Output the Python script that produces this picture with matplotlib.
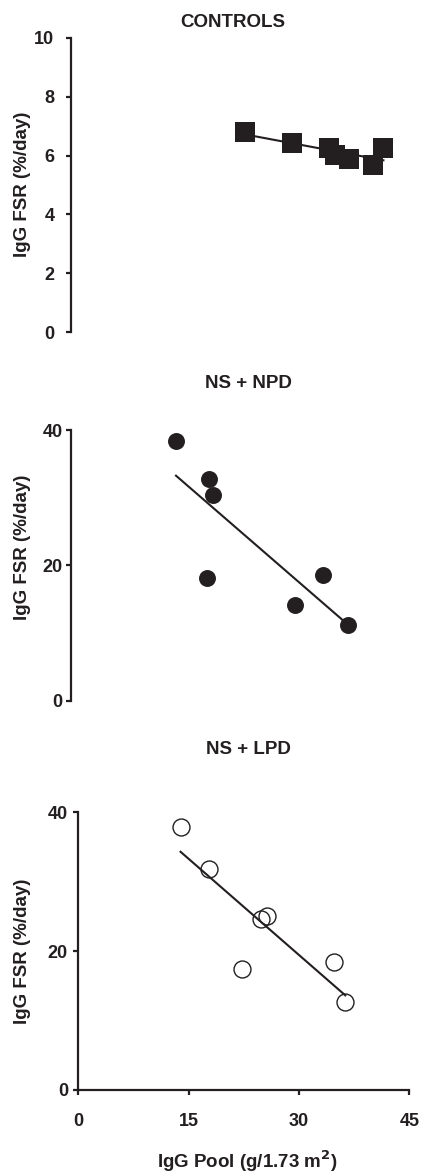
import numpy as np
import matplotlib
matplotlib.use("Agg")
import matplotlib.pyplot as plt

# ---- data ----
ctrl_pool = [23.6, 30.0, 35.0, 35.8, 37.7, 41.0, 42.4]
ctrl_fsr = [6.81, 6.41, 6.24, 6.02, 5.87, 5.68, 6.24]

npd_pool = [14.25, 18.7, 19.3, 18.5, 30.4, 34.2, 37.6]
npd_fsr = [38.4, 32.7, 30.4, 18.2, 14.2, 18.6, 11.2]

lpd_pool = [13.9, 17.8, 24.9, 25.7, 22.2, 34.7, 36.3]
lpd_fsr = [37.9, 31.9, 24.7, 25.0, 17.4, 18.4, 12.7]

titles = ["CONTROLS", "NS + NPD", "NS + LPD"]
ctrl_yticks = [0, 2, 4, 6, 8, 10]
ns_yticks = [0, 20, 40]
xticks = [0, 15, 30, 45]
ylabel = "IgG FSR (%/day)"
xlabel = "IgG Pool (g/1.73 m$^{\\mathbf{2}}$)"

INK = "#231f20"
plt.rcParams['font.family'] = ['Liberation Sans', 'DejaVu Sans']
plt.rcParams['font.weight'] = 'bold'
plt.rcParams['mathtext.default'] = 'bf'

W, H = 421, 1173
fig = plt.figure(figsize=(W / 100, H / 100), dpi=100)


def rect(left, right, top, bottom):
    return [left / W, 1 - bottom / H, (right - left) / W, (bottom - top) / H]


ax1 = fig.add_axes(rect(71, 402.6, 37.7, 332.3))
ax2 = fig.add_axes(rect(71, 402.6, 430, 700.7))
ax3 = fig.add_axes(rect(78.3, 409.3, 812.3, 1090))


def style(ax, yticks, ypad, show_x):
    ax.set_xlim(0, 45)
    ax.set_ylim(yticks[0], yticks[-1])
    ax.set_yticks(yticks)
    for s in ['top', 'right']:
        ax.spines[s].set_visible(False)
    ax.spines['left'].set_linewidth(1.6)
    ax.spines['left'].set_color(INK)
    ax.tick_params(axis='y', direction='out', length=3.5, width=1.6,
                   color=INK, labelsize=13, labelcolor=INK, pad=ypad)
    if show_x:
        ax.spines['bottom'].set_linewidth(1.6)
        ax.spines['bottom'].set_color(INK)
        ax.set_xticks(xticks)
        ax.tick_params(axis='x', direction='out', length=3.5, width=1.6,
                       color=INK, labelsize=13, labelcolor=INK, pad=13)
    else:
        ax.spines['bottom'].set_visible(False)
        ax.set_xticks([])
    for lab in ax.get_xticklabels() + ax.get_yticklabels():
        lab.set_fontweight('bold')


def fit_line(ax, x, y):
    x = np.asarray(x)
    y = np.asarray(y)
    m, b = np.polyfit(x, y, 1)
    xs = np.array([x.min(), x.max()])
    ax.plot(xs, m * xs + b, color=INK, lw=1.5, zorder=2, clip_on=False)


style(ax1, ctrl_yticks, 8.5, False)
style(ax2, ns_yticks, 2.5, False)
style(ax3, ns_yticks, 4, True)

fit_line(ax1, ctrl_pool, ctrl_fsr)
ax1.plot(ctrl_pool, ctrl_fsr, 's', ms=14.4, mfc=INK, mec=INK, mew=0,
         zorder=3, clip_on=False)

fit_line(ax2, npd_pool, npd_fsr)
ax2.plot(npd_pool, npd_fsr, 'o', ms=12.2, mfc=INK, mec=INK, mew=0,
         zorder=3, clip_on=False)

fit_line(ax3, lpd_pool, lpd_fsr)
ax3.plot(lpd_pool, lpd_fsr, 'o', ms=12.2, mfc='none', mec=INK, mew=1.0,
         zorder=3, clip_on=False)

# titles
title_pos = [(233, 22.7), (248.3, 383.3), (248.8, 749.7)]
for t, (x, y) in zip(titles, title_pos):
    fig.text(x / W, 1 - y / H, t, ha='center', va='center',
             fontsize=13.5, fontweight='bold', color=INK)

# y labels
ylab_pos = [(23, 184), (23, 547.5), (23, 951.7)]
for (x, y) in ylab_pos:
    fig.text(x / W, 1 - y / H, ylabel, ha='center', va='center',
             rotation=90, fontsize=13.5, fontweight='bold', color=INK)

fig.text(247.5 / W, 1 - 1161.7 / H, xlabel, ha='center', va='center',
         fontsize=13.5, fontweight='bold', color=INK)

fig.savefig("out.png", dpi=100, facecolor='white')
